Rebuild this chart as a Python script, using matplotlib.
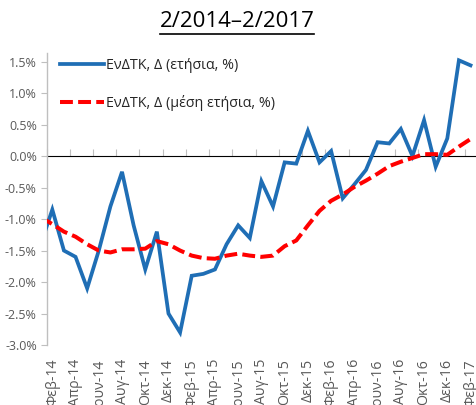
import matplotlib
matplotlib.use("Agg")
import matplotlib.pyplot as plt
from matplotlib.lines import Line2D

# monthly data Jan-14 .. Feb-17
hicp = [-1.40, -0.85, -1.50, -1.60, -2.10, -1.50, -0.80, -0.25, -1.10, -1.80, -1.20, -2.50,
        -2.80, -1.90, -1.87, -1.80, -1.40, -1.10, -1.30, -0.40, -0.80, -0.10, -0.12, 0.40,
        -0.10, 0.08, -0.67, -0.45, -0.22, 0.22, 0.20, 0.43, 0.00, 0.57, -0.17, 0.28,
        1.52, 1.44]
hicp_avg = [-0.97, -1.08, -1.20, -1.28, -1.40, -1.50, -1.53, -1.48, -1.48, -1.47, -1.35, -1.40,
            -1.50, -1.58, -1.62, -1.63, -1.58, -1.55, -1.58, -1.60, -1.58, -1.43, -1.34, -1.10,
            -0.87, -0.71, -0.61, -0.49, -0.39, -0.28, -0.16, -0.09, -0.03, 0.03, 0.03, 0.02,
            0.15, 0.27]
tick_labels = ['Φεβ-14', 'Απρ-14', 'Ιουν-14', 'Αυγ-14', 'Οκτ-14', 'Δεκ-14',
               'Φεβ-15', 'Απρ-15', 'Ιουν-15', 'Αυγ-15', 'Οκτ-15', 'Δεκ-15',
               'Φεβ-16', 'Απρ-16', 'Ιουν-16', 'Αυγ-16', 'Οκτ-16', 'Δεκ-16',
               'Φεβ-17']
yticks = [1.5, 1.0, 0.5, 0.0, -0.5, -1.0, -1.5, -2.0, -2.5, -3.0]
label_a = 'ΕνΔΤΚ, Δ (ετήσια, %)'
label_b = 'ΕνΔΤΚ, Δ (μέση ετήσια, %)'
title = '2/2014–2/2017'

plt.rcParams['font.family'] = ['Open Sans', 'DejaVu Sans']
grey = '#595959'
axis_grey = '#BFBFBF'

ymin, ymax = -3.0, 1.63

fig = plt.figure(figsize=(4.76, 4.05), dpi=100)
ax = fig.add_axes([0.0977, 0.148, 0.903, 0.7202])

x = list(range(len(hicp)))
ax.plot(x, hicp, color='#1F6EB5', lw=2.7, label=label_a,
        solid_joinstyle='miter', zorder=3)
ax.plot(x, hicp_avg, color='#FF0000', lw=2.9, ls=(0, (3.2, 1.3)), label=label_b,
        zorder=4)

ax.set_xlim(0.5, 37.5)
ax.set_ylim(ymin, ymax)

# y axis
ax.set_yticks(yticks)
ax.set_yticklabels(['%.1f%%' % v for v in yticks])
ax.tick_params(axis='y', direction='out', length=4, width=0.8, color=axis_grey,
               labelcolor=grey, labelsize=9, pad=3)
for s in ['top', 'right', 'bottom']:
    ax.spines[s].set_visible(False)
ax.spines['left'].set_color(axis_grey)
ax.spines['left'].set_linewidth(1.0)

# category labels at the bottom, no marks
ax.set_xticks(range(1, 38, 2))
ax.set_xticklabels(tick_labels, rotation=90)
ax.tick_params(axis='x', length=0, labelcolor=grey, labelsize=10.2, pad=10)

# horizontal axis crossing at zero with tick marks
sec = ax.secondary_xaxis((0 - ymin) / (ymax - ymin))
sec.set_xticks([v + 0.5 for v in range(0, 37, 2)])
sec.set_xticklabels([])
sec.tick_params(direction='out', length=5, width=0.8, color=axis_grey)
sec.spines['bottom'].set_color(axis_grey)
sec.spines['bottom'].set_linewidth(1.0)

leg = ax.legend(loc='upper left', bbox_to_anchor=(0.031, 0.985), frameon=False,
                fontsize=10.3, handlelength=3.1, handletextpad=0.1, labelspacing=1.55,
                borderpad=0, borderaxespad=0)
for t in leg.get_texts():
    t.set_color('#262626')

ttl = fig.text(0.498, 0.946, title, ha='center', va='center', fontsize=16, color='black')
fig.canvas.draw()
bb = ttl.get_window_extent().transformed(fig.transFigure.inverted())
fig.add_artist(Line2D([bb.x0, bb.x1], [bb.y0 - 0.004, bb.y0 - 0.004], color='black',
                      lw=1.2, transform=fig.transFigure))

fig.savefig('out.png', dpi=100)
